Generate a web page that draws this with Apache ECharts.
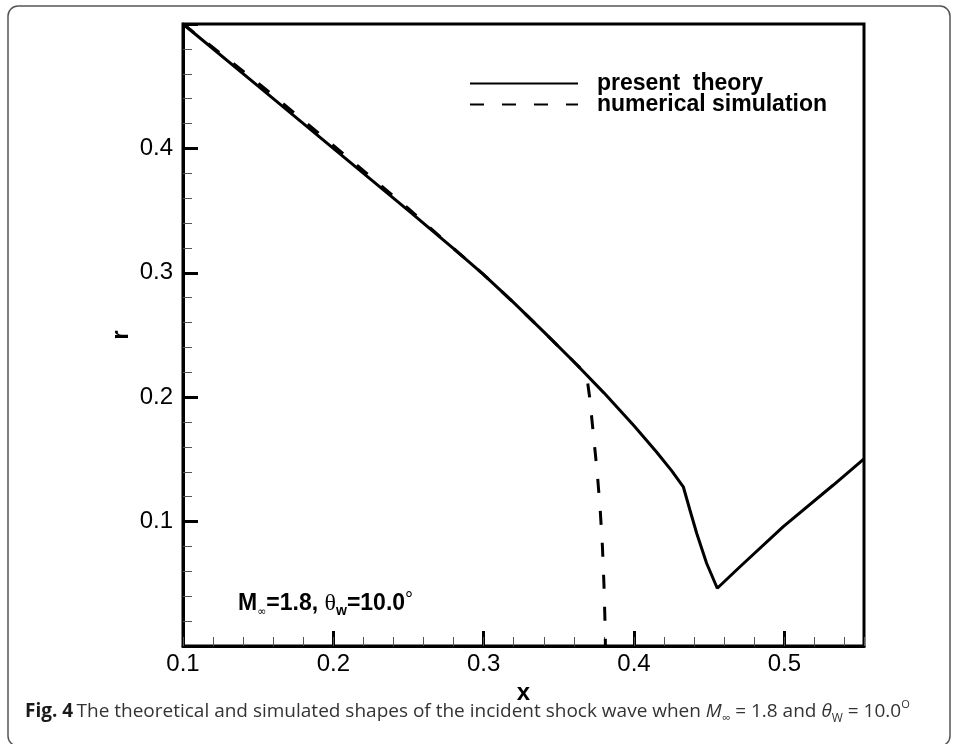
<!DOCTYPE html>
<html>
<head>
<meta charset="utf-8">
<script src="https://cdn.jsdelivr.net/npm/echarts@6/dist/echarts.min.js"></script>
<style>
  body { margin: 0; background: #fff; }
  #chart { width: 956px; height: 744px; }
</style>
</head>
<body>
<div id="chart"></div>
<script>
// names shown in the legend
const seriesNames = ['present  theory', 'numerical simulation'];

// present theory: [x, r]
const theoryX = [0.10, 0.15, 0.20, 0.25, 0.28, 0.30, 0.32, 0.34, 0.36, 0.38, 0.40, 0.415, 0.425, 0.4328,
                 0.4372, 0.4417, 0.4483, 0.4554, 0.4705, 0.4993, 0.5326, 0.553];
const theoryR = [0.500, 0.450, 0.400, 0.350, 0.3195, 0.2985, 0.276, 0.2525, 0.2285, 0.2035, 0.177, 0.156, 0.141, 0.128,
                 0.1093, 0.0906, 0.0665, 0.0464, 0.0637, 0.0959, 0.1294, 0.1505];

// numerical simulation: [x, r]
const simX = [0.10, 0.15, 0.20, 0.25, 0.28, 0.30, 0.32, 0.34, 0.36, 0.3684,
              0.3705, 0.373, 0.3755, 0.3775, 0.379, 0.380, 0.3807, 0.381];
const simR = [0.500, 0.4525, 0.4025, 0.3515, 0.3195, 0.2985, 0.276, 0.2525, 0.2285, 0.2185,
              0.200, 0.170, 0.140, 0.110, 0.080, 0.050, 0.020, 0.000];

// axis ranges
const xMin = 0.1, xMax = 0.553, xStep = 0.1, xMinorStep = 0.02;
const rMin = 0, rMax = 0.5, rStep = 0.1;

function pairs(xs, ys) {
  return xs.map((x, i) => [x, ys[i]]);
}

const chart = echarts.init(document.getElementById('chart'));

const option = {
  backgroundColor: '#fff',
  animation: false,
  grid: {
    left: 183, top: 24, right: 92, bottom: 98,
    show: true, borderColor: '#000', borderWidth: 3
  },
  legend: {
    orient: 'vertical',
    left: 464, top: 67,
    itemWidth: 108, itemHeight: 14, itemGap: -2,
    itemStyle: { opacity: 0 },
    textStyle: {
      fontFamily: 'Liberation Sans', fontWeight: 'bold', fontSize: 23,
      color: '#000', lineHeight: 20, padding: [0, 0, 0, 14]
    },
    data: seriesNames
  },
  xAxis: [
    {
      type: 'value', min: xMin, max: xMax, interval: xStep, position: 'bottom',
      name: 'x', nameLocation: 'middle', nameGap: 35, nameMoveOverlap: false,
      nameTextStyle: { fontFamily: 'Liberation Sans', fontWeight: 'bold', fontSize: 24, color: '#000' },
      axisLine: { onZero: false, lineStyle: { color: '#000', width: 3 } },
      axisTick: { inside: true, length: 15, lineStyle: { color: '#000', width: 3 } },
      axisLabel: { showMaxLabel: false, margin: 6, fontFamily: 'Liberation Sans', fontSize: 24, color: '#000' },
      splitLine: { show: false }
    },
    {
      type: 'value', min: xMin, max: xMax, interval: xMinorStep, position: 'bottom',
      axisLine: { show: false, onZero: false },
      axisTick: { inside: true, length: 9, lineStyle: { color: '#555', width: 1 } },
      axisLabel: { show: false },
      splitLine: { show: false }
    }
  ],
  yAxis: {
    type: 'value', min: rMin, max: rMax, interval: rStep,
    name: 'r', nameLocation: 'middle', nameGap: 50, nameMoveOverlap: false,
    nameTextStyle: { fontFamily: 'Liberation Sans', fontWeight: 'bold', fontSize: 24, color: '#000' },
    axisLine: { show: true, onZero: false, lineStyle: { color: '#000', width: 3 } },
    axisTick: { inside: true, length: 15, lineStyle: { color: '#000', width: 3 } },
    minorTick: { show: true, splitNumber: 5, length: 9, lineStyle: { color: '#555', width: 1 } },
    axisLabel: { showMinLabel: false, showMaxLabel: false, margin: 10,
                 fontFamily: 'Liberation Sans', fontSize: 24, color: '#000' },
    splitLine: { show: false }
  },
  graphic: [
    {
      type: 'rect', silent: true, z: -1,
      shape: { x: 8, y: 6, width: 942, height: 740, r: 10 },
      style: { fill: 'none', stroke: '#555', lineWidth: 1.5 }
    },
    {
      type: 'text', x: 238, y: 604,
      style: {
        text: '{m|M}{s|∞}{m|=1.8, }{t|θ}{w|w}{m|=10.0}{d|°}',
        verticalAlign: 'middle',
        rich: {
          m: { fontFamily: 'Liberation Sans', fontWeight: 'bold', fontSize: 23, fill: '#000', lineHeight: 28, verticalAlign: 'middle' },
          s: { fontFamily: 'DejaVu Sans', fontSize: 11, fill: '#000', lineHeight: 13, verticalAlign: 'bottom' },
          t: { fontFamily: 'Liberation Serif', fontSize: 24, fill: '#000', lineHeight: 28, verticalAlign: 'middle' },
          w: { fontFamily: 'Liberation Sans', fontWeight: 'bold', fontSize: 14, fill: '#000', lineHeight: 14, verticalAlign: 'bottom' },
          d: { fontFamily: 'Liberation Sans', fontSize: 20, fill: '#000', lineHeight: 24, verticalAlign: 'top' }
        }
      }
    },
    {
      type: 'text', x: 25, y: 712,
      style: {
        text: '{b|Fig. 4} {n|The theoretical and simulated shapes of the incident shock wave when }{i|M}{s|∞}{n| = 1.8 and }{i|θ}{s|W}{n| = 10.0}{o|O}',
        verticalAlign: 'middle',
        rich: {
          b: { fontFamily: 'Open Sans', fontWeight: 'bold', fontSize: 19, fill: '#1a1a1a', lineHeight: 26, verticalAlign: 'middle' },
          n: { fontFamily: 'Open Sans', fontSize: 19, fill: '#333', lineHeight: 26, verticalAlign: 'middle' },
          i: { fontFamily: 'Open Sans', fontStyle: 'italic', fontSize: 19, fill: '#333', lineHeight: 26, verticalAlign: 'middle' },
          s: { fontFamily: 'Open Sans', fontSize: 12, fill: '#333', lineHeight: 16, verticalAlign: 'bottom' },
          o: { fontFamily: 'Open Sans', fontSize: 11, fill: '#333', lineHeight: 14, verticalAlign: 'top' }
        }
      }
    }
  ],
  series: [
    {
      name: seriesNames[0], type: 'line', xAxisIndex: 0,
      symbol: 'none', showSymbol: false,
      lineStyle: { color: '#000', width: 3, type: 'solid' },
      itemStyle: { color: '#000' },
      data: pairs(theoryX, theoryR)
    },
    {
      name: seriesNames[1], type: 'line', xAxisIndex: 0,
      symbol: 'none', showSymbol: false,
      lineStyle: { color: '#000', width: 3, type: [14, 18] },
      itemStyle: { color: '#000' },
      data: pairs(simX, simR)
    }
  ]
};

chart.setOption(option);
window.addEventListener('resize', function () {
  chart.resize();
});
</script>
</body>
</html>
